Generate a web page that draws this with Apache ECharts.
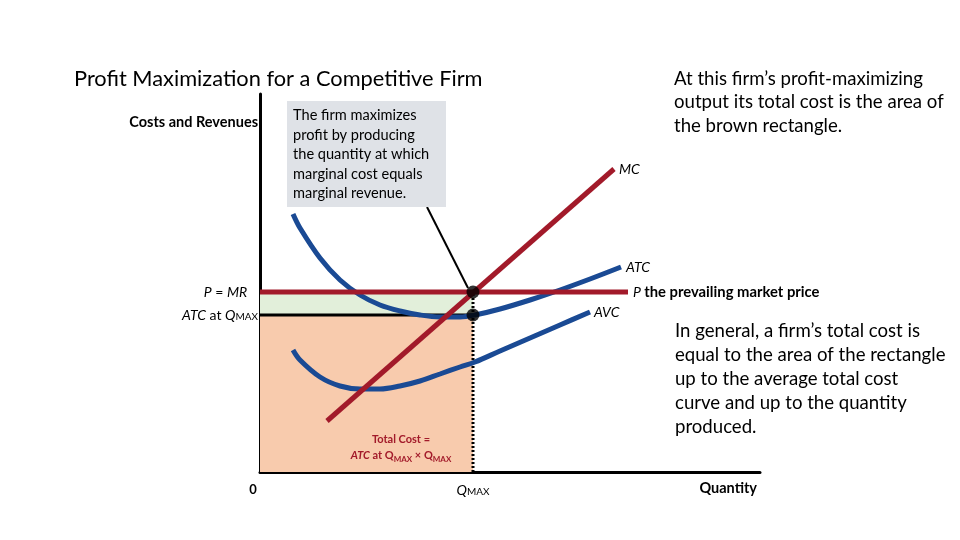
<!DOCTYPE html>
<html><head><meta charset="utf-8">
<script src="https://cdn.jsdelivr.net/npm/echarts@6/dist/echarts.min.js"></script>
<style>html,body{margin:0;padding:0;background:#fff}#c{width:960px;height:540px}</style>
</head><body><div id="c"></div>
<script>
// ---- data (diagram units) ----
const qMax = 42.6;          // profit-maximizing quantity
const price = 45;           // P = MR
const atcAtQ = 39.25;       // ATC at Q_MAX
const priceLineEnd = 73.6;  // where the P line stops
const atcX = [6.6, 8, 12, 16, 20, 24, 28, 32, 36, 40, 43, 48, 54, 60, 66, 72.2];
const atcY = [64.5, 61, 53.5, 48, 44.25, 41.75, 40.25, 39.25, 38.75, 38.75, 39.25, 40.75, 43, 45.5, 48.25, 51.25];
const avcX = [6.6, 8, 12, 16, 20, 24, 28, 32, 36, 40, 43, 48, 54, 60, 66];
const avcY = [30.5, 28, 23.75, 21.5, 20.75, 20.75, 21.5, 22.75, 24.5, 26.25, 27.5, 30.25, 33.5, 36.75, 40];
const mcX = [13.4, 70.8];
const mcY = [12.75, 75.75];
const calloutX = [33.4, 41.6];
const calloutY = [66.25, 46];

const RED = '#a21a2a', BLUE = '#1a4a94', FONT = 'Lato, "Open Sans", sans-serif';
const zip = (a, b) => a.map((v, i) => [v, b[i]]);

const chart = echarts.init(document.getElementById('c'));
chart.setOption({
  animation: false,
  backgroundColor: '#fff',
  grid: { left: 260, top: 94, width: 500, height: 378, containLabel: false },
  xAxis: {
    type: 'value', min: 0, max: 100, splitLine: { show: false },
    axisLine: { show: true, lineStyle: { color: '#000', width: 3 } },
    axisTick: { show: false },
    axisLabel: {
      show: true, customValues: [0, qMax], margin: 11, color: '#000', fontFamily: FONT,
      formatter: v => v === 0 ? '{b|0}' : '{i|Q}{s|MAX}',
      rich: {
        b: { fontWeight: 'bold', fontSize: 13, fontFamily: FONT, padding: [0, 14, 0, 0] },
        i: { fontStyle: 'italic', fontSize: 14, fontFamily: FONT },
        s: { fontSize: 10, fontFamily: FONT, verticalAlign: 'bottom', lineHeight: 14 }
      }
    }
  },
  yAxis: {
    type: 'value', min: 0, max: 94.5, splitLine: { show: false },
    axisLine: { show: true, lineStyle: { color: '#000', width: 3 } },
    axisTick: { show: false },
    axisLabel: {
      show: true, customValues: [atcAtQ, price], margin: 2, color: '#000', fontFamily: FONT, fontSize: 14,
      formatter: v => v === price ? '{i|P} = {i|MR}   ' : '{i|ATC} at {i|Q}{s|MAX}',
      rich: {
        i: { fontStyle: 'italic', fontSize: 14, fontFamily: FONT },
        s: { fontSize: 10, fontFamily: FONT, verticalAlign: 'bottom', lineHeight: 14 }
      }
    }
  },
  series: [
    { // rectangles
      type: 'line', data: [], silent: true, z: 1,
      markArea: {
        silent: true,
        data: [
          [{ coord: [0, 0], itemStyle: { color: '#f8cbad' } }, { coord: [qMax, atcAtQ] }],
          [{ coord: [0, atcAtQ], itemStyle: { color: '#e2efda' } }, { coord: [qMax, price] }]
        ]
      }
    },
    { type: 'line', data: [[qMax, 0], [qMax, price]], symbol: 'none', z: 3,
      lineStyle: { color: '#000', width: 3, type: [2, 2] } },
    { type: 'line', data: [[0, atcAtQ], [qMax, atcAtQ]], symbol: 'none', z: 3,
      lineStyle: { color: '#000', width: 3 } },
    { type: 'line', data: zip(avcX, avcY), smooth: 0.35, symbol: 'none', z: 4,
      lineStyle: { color: BLUE, width: 5, cap: 'butt' },
      endLabel: { show: true, formatter: 'AVC', fontStyle: 'italic', fontSize: 14, fontFamily: FONT, color: '#000', distance: 4 } },
    { type: 'line', data: zip(atcX, atcY), smooth: 0.35, symbol: 'none', z: 4,
      lineStyle: { color: BLUE, width: 5, cap: 'butt' },
      endLabel: { show: true, formatter: 'ATC', fontStyle: 'italic', fontSize: 14, fontFamily: FONT, color: '#000', distance: 5 } },
    { type: 'line', data: [[0, price], [priceLineEnd, price]], symbol: 'none', z: 5,
      lineStyle: { color: RED, width: 5, cap: 'butt' },
      endLabel: { show: true, formatter: '{i|P} {b|the prevailing market price}', color: '#000', distance: 5,
        rich: { i: { fontStyle: 'italic', fontSize: 14, fontFamily: FONT }, b: { fontWeight: 'bold', fontSize: 14.8, fontFamily: FONT } } } },
    { type: 'line', data: zip(mcX, mcY), symbol: 'none', z: 5,
      lineStyle: { color: RED, width: 5, cap: 'butt' },
      endLabel: { show: true, formatter: 'MC', fontStyle: 'italic', fontSize: 14, fontFamily: FONT, color: '#000', distance: 5 } },
    { type: 'line', data: zip(calloutX, calloutY), symbol: 'none', z: 6,
      lineStyle: { color: '#000', width: 2 } },
    { type: 'scatter', data: [[qMax, price], [qMax, atcAtQ]], symbolSize: 13, z: 7,
      itemStyle: { color: '#000' } }
  ],
  graphic: [
    { type: 'text', left: 74, top: 68, style: { text: 'Profit Maximization for a Competitive Firm', font: '21.8px ' + FONT, fill: '#000' } },
    { type: 'text', right: 702, top: 115, style: { text: 'Costs and Revenues', font: 'bold 14.5px ' + FONT, fill: '#000' } },
    { type: 'rect', shape: { x: 287, y: 101, width: 159, height: 106 }, style: { fill: '#dfe2e7' }, z: 10 },
    { type: 'text', left: 293, top: 106, z: 11, style: { text: 'The firm maximizes\nprofit by producing\nthe quantity at which\nmarginal cost equals\nmarginal revenue.', font: '14.6px ' + FONT, lineHeight: 19.4, fill: '#000' } },
    { type: 'text', left: 674, top: 67, style: { text: 'At this firm\u2019s profit-maximizing\noutput its total cost is the area of\nthe brown rectangle.', font: '18.6px ' + FONT, lineHeight: 23.5, fill: '#000' } },
    { type: 'text', left: 675, top: 319, style: { text: 'In general, a firm\u2019s total cost is\nequal to the area of the rectangle\nup to the average total cost\ncurve and up to the quantity\nproduced.', font: '18.6px ' + FONT, lineHeight: 24, fill: '#000' } },
    { type: 'text', z: 12, style: {
        x: 401, y: 431, align: 'center', verticalAlign: 'top',
        text: '{b|Total Cost =}\n{bi|ATC}{b| at Q}{s|MAX}{b| \u00d7 Q}{s|MAX}', fill: RED,
        rich: { b: { fontWeight: 'bold', fontSize: 11, fontFamily: FONT, fill: RED, lineHeight: 16 },
                bi: { fontWeight: 'bold', fontStyle: 'italic', fontSize: 11, fontFamily: FONT, fill: RED, lineHeight: 16 },
                s: { fontWeight: 'bold', fontSize: 8, fontFamily: FONT, fill: RED, lineHeight: 12, verticalAlign: 'bottom' } } } },
    { type: 'text', right: 203, top: 481, style: { text: 'Quantity', font: 'bold 14.5px ' + FONT, fill: '#000' } }
  ]
});
</script></body></html>
